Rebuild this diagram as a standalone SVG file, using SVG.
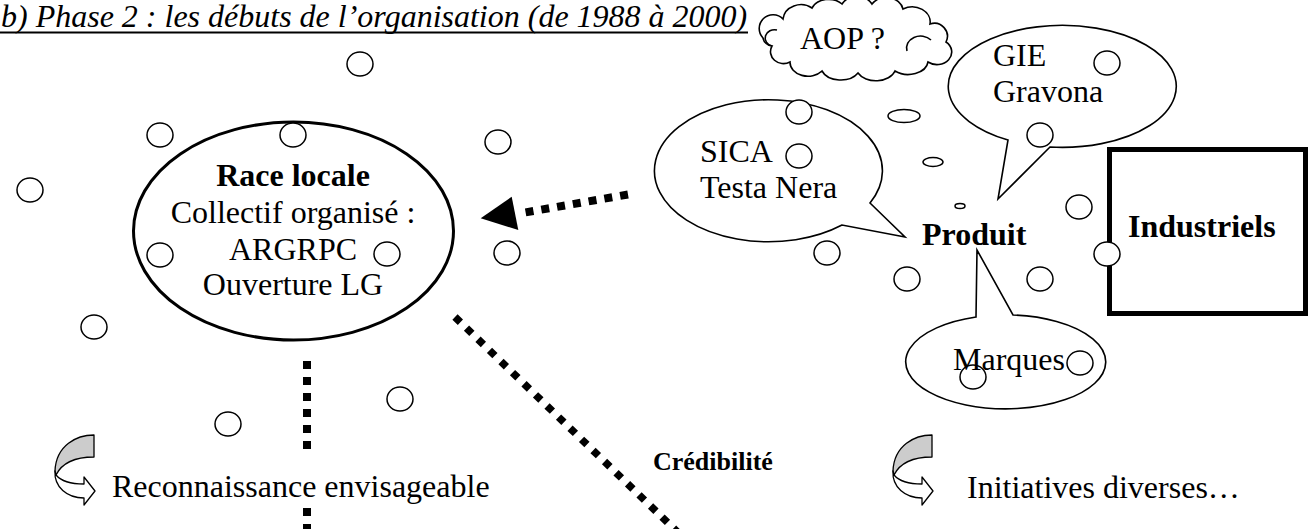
<svg xmlns="http://www.w3.org/2000/svg" width="1314" height="529" viewBox="0 0 1314 529">
<style>
text{font-family:"Liberation Serif","Times New Roman",serif;fill:#000}
.t{font-size:32px}
.b{font-size:32px;font-weight:bold}
.dot{fill:#fff;stroke:#000;stroke-width:1.5}
.line{fill:#fff;stroke:#000;stroke-width:1.6}
.dash{fill:none;stroke:#000;stroke-width:8;stroke-dasharray:8 8}
</style>
<defs>
<g id="curl">
<path d="M41,0 C24,0 3,10 2,36 L3,40 C8,30 20,22 41,22 Z" fill="#cccccc" stroke="#000" stroke-width="1.3" stroke-linejoin="round"/>
<path d="M2,36 C1,52 14,63 31,63 L31,70 L42,56 L31,42 L31,49 C18,49 8,46 3,40 Z" fill="#fff" stroke="#000" stroke-width="1.3" stroke-linejoin="round"/>
</g>
</defs>
<rect width="1314" height="529" fill="#fff"/>

<g id="title">
<text x="1" y="27" font-size="32" font-style="italic">b) Phase 2 : les débuts de l’organisation (de 1988 à 2000)</text>
<line x1="0" y1="32.5" x2="748" y2="32.5" stroke="#000" stroke-width="2"/>
</g>

<g id="connectors">
<path class="dash" d="M628,194.5 L525.6,212.4"/>
<polygon points="480.7,218.3 511.7,196.7 518.3,230" fill="#000"/>
<path d="M307,361 L307,452" class="dash"/>
<path d="M307,508 L307,532" class="dash"/>
<path d="M455,317 L695,549" fill="none" stroke="#000" stroke-width="7.5" stroke-dasharray="7.5 8.5"/>
</g>

<g id="node-aop">
<path class="line" d="M763,38 A13,13 0 0 1 783,19 A18,16 0 0 1 812,8 A18,14 0 0 1 842,4 A17,14 0 0 1 872,4 A17,14 0 0 1 903,9 A18,15 0 0 1 930,24 A13,13 0 0 1 946,42 A14,12 0 0 1 928,62 A20,14 0 0 1 895,71 A20,14 0 0 1 858,73 A20,14 0 0 1 822,71 A18,14 0 0 1 790,62 A13,12 0 0 1 772,46 A10,10 0 0 1 763,38 Z"/>
<path d="M907,51 A14,12 0 0 1 931,40" fill="none" stroke="#000" stroke-width="1.6"/>
<path d="M777,30 A9,8 0 0 0 772,46" fill="none" stroke="#000" stroke-width="1.6"/>
<text class="t" x="800" y="49">AOP ?</text>
</g>

<g id="node-race-locale">
<ellipse cx="293.5" cy="231" rx="160" ry="109" fill="#fff" stroke="#000" stroke-width="3"/>
<ellipse class="dot" cx="293" cy="135" rx="13" ry="12"/>
<ellipse class="dot" cx="160" cy="255" rx="13" ry="12"/>
<ellipse class="dot" cx="387" cy="254" rx="13" ry="12"/>
<text class="b" x="293" y="186" text-anchor="middle">Race locale</text>
<text class="t" x="293" y="223" text-anchor="middle">Collectif organisé :</text>
<text class="t" x="293" y="260" text-anchor="middle">ARGRPC</text>
<text class="t" x="293" y="295" text-anchor="middle">Ouverture LG</text>
</g>

<g id="node-sica">
<path class="line" d="M842,225 A114,71 0 1 1 870,203 L905,237 Z"/>
<ellipse class="dot" cx="799" cy="112" rx="13" ry="12"/>
<ellipse class="dot" cx="799" cy="156" rx="13" ry="12"/>
<text class="t" x="700" y="162">SICA</text>
<text class="t" x="700" y="198">Testa Nera</text>
</g>

<g id="node-gie">
<path class="line" d="M1050,147 A114,61 0 1 0 1008,140 L998,199 Z"/>
<ellipse class="dot" cx="1107" cy="63" rx="13" ry="12"/>
<ellipse class="dot" cx="1040" cy="135" rx="13" ry="12"/>
<text class="t" x="993" y="66">GIE</text>
<text class="t" x="993" y="102">Gravona</text>
</g>

<g id="node-marques">
<path class="line" d="M1013,315 A100,47 0 1 1 976,317 L977,250 Z"/>
<ellipse class="dot" cx="973" cy="377" rx="13" ry="12"/>
<ellipse class="dot" cx="1080" cy="363" rx="13" ry="12"/>
<text class="t" x="953" y="370">Marques</text>
</g>

<g id="node-produit">
<text class="b" x="922" y="245">Produit</text>
</g>

<g id="node-industriels">
<rect x="1109.5" y="149.5" width="196" height="164" fill="#fff" stroke="#000" stroke-width="5"/>
<ellipse class="dot" cx="1107" cy="254" rx="13" ry="12"/>
<text class="b" x="1128" y="237">Industriels</text>
</g>

<g id="bubbles">
<ellipse class="dot" cx="360" cy="64" rx="13" ry="12"/>
<ellipse class="dot" cx="160" cy="135" rx="13" ry="12"/>
<ellipse class="dot" cx="498" cy="142" rx="13" ry="12"/>
<ellipse class="dot" cx="30" cy="190" rx="13" ry="12"/>
<ellipse class="dot" cx="507" cy="253" rx="13" ry="12"/>
<ellipse class="dot" cx="94" cy="327" rx="13" ry="12"/>
<ellipse class="dot" cx="228" cy="424" rx="13" ry="12"/>
<ellipse class="dot" cx="400" cy="399" rx="13" ry="12"/>
<ellipse class="dot" cx="827" cy="253" rx="13" ry="12"/>
<ellipse class="dot" cx="907" cy="279" rx="13" ry="12"/>
<ellipse class="dot" cx="1079" cy="207" rx="13" ry="12"/>
<ellipse class="dot" cx="1040" cy="279" rx="13" ry="12"/>
<ellipse class="dot" cx="904" cy="116" rx="16" ry="6.5"/>
<ellipse class="dot" cx="933" cy="162" rx="10" ry="4.5"/>
<ellipse class="dot" cx="960" cy="206" rx="5" ry="2.5"/>
</g>

<g id="node-reconnaissance">
<use href="#curl" transform="translate(53,435)"/>
<text class="t" x="112" y="497">Reconnaissance envisageable</text>
</g>

<g id="node-credibilite">
<text x="653" y="470" font-size="26" font-weight="bold">Crédibilité</text>
</g>

<g id="node-initiatives">
<use href="#curl" transform="translate(891,435)"/>
<text class="t" x="967" y="498">Initiatives diverses…</text>
</g>
</svg>
